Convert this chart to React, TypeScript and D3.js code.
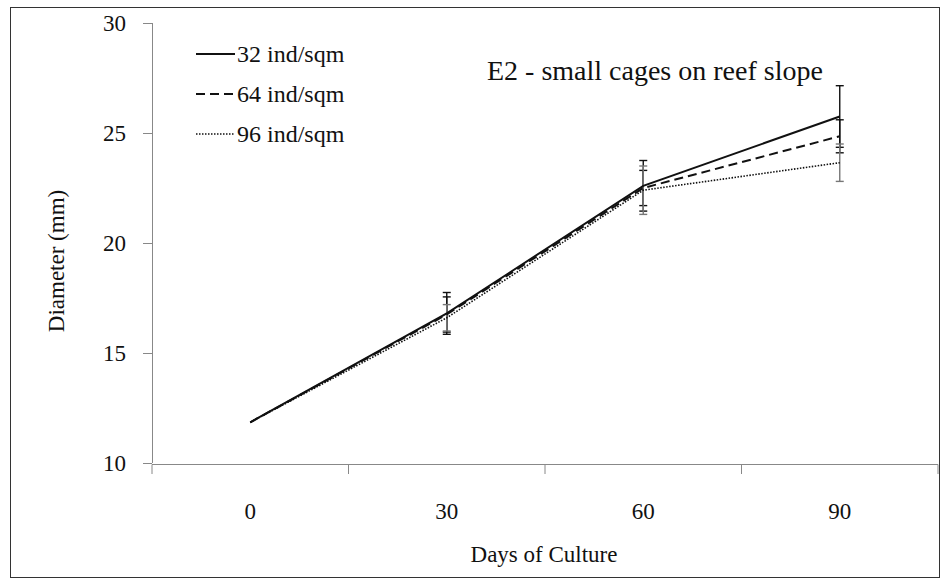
import React from "react";
import * as d3 from "d3";

const days = [0, 30, 60, 90];
const yTicks = [10, 15, 20, 25, 30];
const seriesNames = ["32 ind/sqm", "64 ind/sqm", "96 ind/sqm"];
const mean32 = [11.85, 16.8, 22.6, 25.75];
const mean64 = [11.85, 16.75, 22.5, 24.85];
const mean96 = [11.85, 16.6, 22.4, 23.65];
const err32 = [0, 0.95, 1.15, 1.4];
const err64 = [0, 0.8, 0.8, 0.75];
const err96 = [0, 0.6, 1.1, 0.85];

const W = 944;
const H = 581;

function T(props: any) {
  const { children, ...rest } = props;
  return (
    <text {...rest} fontFamily="Liberation Serif" style={{ fontFamily: '"Liberation Serif"' }} fill="#111">
      {children}
    </text>
  );
}

export default function App() {
  const left = 152, right = 938, top = 23, bottom = 463;
  const x = d3.scalePoint<number>().domain(days).range([left, right]).padding(0.5);
  const band = (right - left) / days.length;
  const y = d3.scaleLinear().domain([10, 30]).range([bottom, top]);
  const line = d3.line<number>().x((_, i) => x(days[i])!).y((d) => y(d));

  const series = [
    { name: seriesNames[0], m: mean32, e: err32, dash: "none", w: 2, errColor: "#111" },
    { name: seriesNames[1], m: mean64, e: err64, dash: "9,5", w: 2, errColor: "#111" },
    { name: seriesNames[2], m: mean96, e: err96, dash: "1.5,1.5", w: 1.6, errColor: "#777" },
  ];

  return (
    <svg
      width={W}
      height={H}
      fontFamily="Liberation Serif"
      style={{ position: "absolute", left: 0, top: 0, background: "#fff", fontFamily: '"Liberation Serif"' }}
    >
      <rect x={10.5} y={7.5} width={929} height={570} fill="#fff" stroke="#333" strokeWidth={1} />
      {/* Y axis */}
      <line x1={left + 0.5} x2={left + 0.5} y1={y(30)} y2={y(10)} stroke="#888" strokeWidth={1} />
      {yTicks.map((t) => (
        <g key={t}>
          <line x1={143} x2={left} y1={y(t) + 0.5} y2={y(t) + 0.5} stroke="#888" />
          <T x={126} y={y(t) + 8} textAnchor="end" fontSize={23}>
            {t}
          </T>
        </g>
      ))}
      {/* X axis */}
      <line x1={left} x2={right} y1={bottom + 1.5} y2={bottom + 1.5} stroke="#888" strokeWidth={1} />
      {d3.range(days.length + 1).map((i) => (
        <line key={i} x1={left + i * band} x2={left + i * band} y1={bottom + 1.5} y2={bottom + 11} stroke="#888" />
      ))}
      {days.map((d) => (
        <T key={d} x={x(d)} y={519} textAnchor="middle" fontSize={23}>
          {d}
        </T>
      ))}
      <T x={544} y={562} textAnchor="middle" fontSize={23}>
        Days of Culture
      </T>
      <T transform={`translate(64, ${y(20) + 18}) rotate(-90)`} textAnchor="middle" fontSize={23}>
        Diameter (mm)
      </T>
      {/* Error bars */}
      {series.map((s) =>
        s.m.map((m, i) =>
          s.e[i] > 0 ? (
            <g key={s.name + i} stroke={s.errColor} strokeWidth={1.4}>
              <line x1={x(days[i])} x2={x(days[i])} y1={y(m + s.e[i])} y2={y(m - s.e[i])} />
              <line x1={x(days[i])! - 4} x2={x(days[i])! + 4} y1={y(m + s.e[i])} y2={y(m + s.e[i])} />
              <line x1={x(days[i])! - 4} x2={x(days[i])! + 4} y1={y(m - s.e[i])} y2={y(m - s.e[i])} />
            </g>
          ) : null
        )
      )}
      {/* Lines */}
      {series.map((s) => (
        <path key={s.name} d={line(s.m)!} fill="none" stroke="#111" strokeWidth={s.w} strokeDasharray={s.dash} />
      ))}
      {/* Legend */}
      {series.map((s, i) => (
        <g key={s.name}>
          <line x1={196} x2={235} y1={54 + i * 40} y2={54 + i * 40} stroke="#111" strokeWidth={s.w} strokeDasharray={s.dash} />
          <T x={237} y={54 + i * 40 + 8} fontSize={24}>
            {s.name}
          </T>
        </g>
      ))}
      <T x={487} y={80} fontSize={28}>
        E2 - small cages on reef slope
      </T>
    </svg>
  );
}
